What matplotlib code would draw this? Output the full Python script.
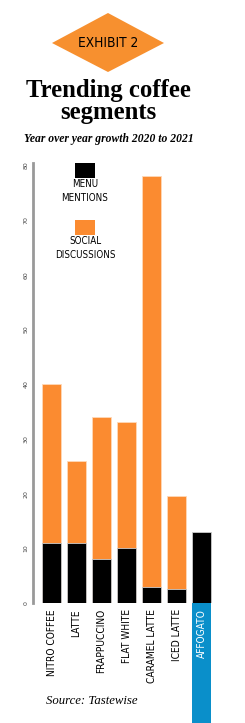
import matplotlib
matplotlib.use("Agg")
import matplotlib.pyplot as plt
from matplotlib.patches import Polygon, Rectangle
from matplotlib.transforms import blended_transform_factory
from matplotlib import font_manager
from matplotlib.font_manager import FontProperties

categories = ["NITRO COFFEE", "LATTE", "FRAPPUCCINO", "FLAT WHITE",
              "CARAMEL LATTE", "ICED LATTE", "AFFOGATO"]
social_discussions = [40, 26, 34, 33, 78, 19.5, 0]
menu_mentions = [11, 11, 8, 10, 3, 2.5, 13]
yticks = [0, 10, 20, 30, 40, 50, 60, 70, 80]
highlight = "AFFOGATO"

# find a condensed sans font if one exists
cond_file = None
for f in font_manager.fontManager.ttflist:
    nm = f.name.lower()
    st = str(f.stretch).lower()
    fn = f.fname.lower()
    if f.style == "normal" and str(f.weight) in ("400", "normal", "regular", "500") and \
            ("narrow" in nm or "condensed" in nm or "condensed" in st or "narrow" in fn
             or "condensed" in fn):
        cond_file = f.fname
        break
if cond_file:
    COND = FontProperties(fname=cond_file)
    cond_scale = 1.0
else:
    COND = FontProperties(family="DejaVu Sans")
    cond_scale = 0.8

names = {f.name for f in font_manager.fontManager.ttflist}
SERIF = "Liberation Serif" if "Liberation Serif" in names else "DejaVu Serif"

ORANGE = "#FB8B30"
BLUE = "#0A8FCA"

W, H = 245, 723
fig = plt.figure(figsize=(W / 100, H / 100), dpi=100)
fig.patch.set_facecolor("white")

def fy(y):
    return 1 - y / H
def fx(x):
    return x / W

def cprop(size):
    p = COND.copy()
    p.set_size(size * cond_scale)
    return p

# diamond badge
dia = Polygon([(fx(52), fy(43)), (fx(108), fy(13)), (fx(164), fy(43)), (fx(108), fy(72))],
              closed=True, transform=fig.transFigure, facecolor="#F7902F", edgecolor="none")
fig.patches.append(dia)
fig.text(fx(108), fy(43), "EXHIBIT 2", fontproperties=cprop(9.8), color="black",
         ha="center", va="center")

fig.text(fx(108), fy(90), "Trending coffee", family=SERIF, fontsize=17.8, weight="bold",
         ha="center", va="center", color="black")
fig.text(fx(108), fy(113), "segments", family=SERIF, fontsize=17.8, weight="bold",
         ha="center", va="center", color="black")
fig.text(fx(109), fy(139), "Year over year growth 2020 to 2021", family=SERIF,
         fontsize=8.4, style="italic", weight="bold", ha="center", va="center")

# axes
left, right, bottom, top = 33, 220, 603, 163
ax = fig.add_axes([fx(left), fy(bottom), (right - left) / W, (bottom - top) / H])
ax.set_facecolor("none")
x = list(range(len(categories)))
bw = 0.74
ax.bar(x, social_discussions, width=bw, color=ORANGE, edgecolor="#FFD9B8", linewidth=0.6, zorder=2)
ax.bar(x, menu_mentions, width=bw, color="black", edgecolor="#CCCCCC", linewidth=0.6, zorder=3)
ax.set_xlim((left - 51.5) / 25, (right - 51.5) / 25)
ax.set_ylim(0, (bottom - top) / 5.47)
ax.set_yticks(yticks)
ax.set_yticklabels([str(t) for t in yticks], rotation=90, fontsize=4.5, color="#444444",
                   va="center")
ax.tick_params(axis="y", length=0, pad=3)
ax.set_xticks([])
for s in ["top", "right", "bottom"]:
    ax.spines[s].set_visible(False)
ax.spines["left"].set_color("#999999")
ax.spines["left"].set_linewidth(2)

# category labels
tr = blended_transform_factory(ax.transData, fig.transFigure)
for i, c in enumerate(categories):
    col = "black"
    if c == highlight:
        r = Rectangle((i - bw / 2, 0), bw, fy(bottom), transform=tr, facecolor=BLUE,
                      edgecolor="none", clip_on=False, zorder=1)
        fig.patches.append(r)
        col = "white"
    fig.text(i, fy(609), c, transform=tr, rotation=90, ha="center", va="top",
             fontproperties=cprop(7.3), color=col, zorder=5)

# legend
fig.patches.append(Rectangle((fx(75), fy(178)), 20 / W, 15 / H, transform=fig.transFigure,
                             facecolor="black", edgecolor="none"))
fig.text(fx(85), fy(191), "MENU\nMENTIONS", fontproperties=cprop(7.0), ha="center",
         va="center", linespacing=1.6)
fig.patches.append(Rectangle((fx(75), fy(235)), 20 / W, 15 / H, transform=fig.transFigure,
                             facecolor=ORANGE, edgecolor="none"))
fig.text(fx(85), fy(248), "SOCIAL\nDISCUSSIONS", fontproperties=cprop(7.0), ha="center",
         va="center", linespacing=1.6)

fig.text(fx(46), fy(701), "Source: Tastewise", family=SERIF, fontsize=9.2, style="italic",
         ha="left", va="center")

fig.savefig("out.png", dpi=100)
